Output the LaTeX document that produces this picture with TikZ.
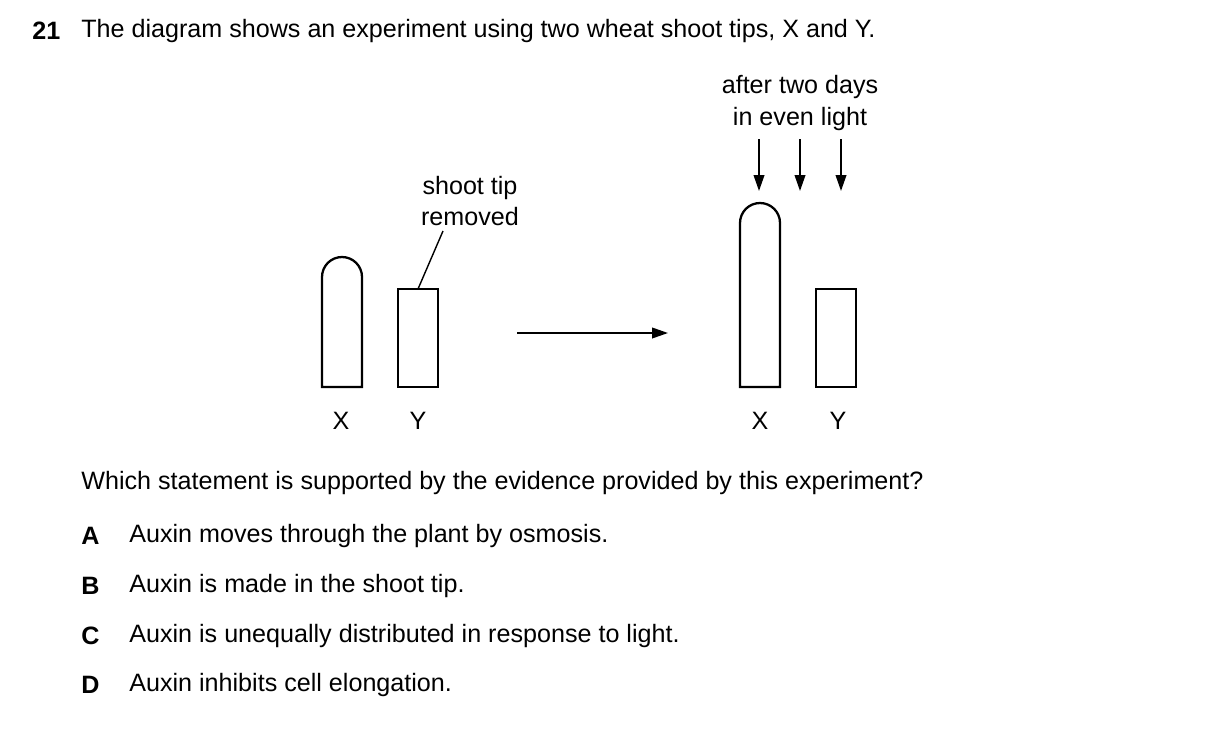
\documentclass[tikz,border=0pt]{standalone}
\usepackage{fontspec}
\setmainfont{Liberation Sans}
\usetikzlibrary{arrows.meta}
\begin{document}
\begin{tikzpicture}[x=0.02cm,y=-0.02cm,
  txt/.style={inner sep=0pt,font=\fontsize{14.3}{17}\selectfont},
  lbl/.style={txt,anchor=west},
  plant/.style={line width=1.3pt},
  arr/.style={line width=1pt,-{Triangle[length=9pt,width=6pt]}}]
\useasboundingbox (0,0) rectangle (1209,747);
\node[lbl,font=\fontsize{14.3}{17}\selectfont\bfseries] (n21) at (32,31) {21};
\node[lbl] (title) at (81,31) {The diagram shows an experiment using two wheat shoot tips, X and Y.};
% left plants
\draw[plant] (322,387) -- (322,277) arc[start angle=180,end angle=360,radius=20] -- (362,387) -- cycle;
\draw[plant] (398,289) rectangle (438,387);
\node[txt,align=center] (st) at (470,201) {shoot tip\\[1pt]removed};
\coordinate (ytop) at (418,289);
\draw[line width=0.8pt] (443,231) -- (ytop);
\node[txt] (x1) at (341,421) {X};
\node[txt] (y1) at (418,421) {Y};
% arrow
\coordinate (a1) at (517,333); \coordinate (a2) at (668,333);
\draw[arr] (a1) -- (a2);
% right plants
\draw[plant] (740,387) -- (740,223) arc[start angle=180,end angle=360,radius=20] -- (780,387) -- cycle;
\draw[plant] (816,289) rectangle (856,387);
\node[txt] (x2) at (760,421) {X};
\node[txt] (y2) at (838,421) {Y};
\node[txt,align=center] (light) at (800,103) {after two days\\[1pt]in even light};
\foreach \xx/\n in {759/l1,800/l2,841/l3}{
  \coordinate (\n a) at (\xx,139); \coordinate (\n b) at (\xx,191);
  \draw[arr] (\n a) -- (\n b);}
\node[lbl] (q) at (81,483) {Which statement is supported by the evidence provided by this experiment?};
\foreach \L/\T/\yy in {A/Auxin moves through the plant by osmosis./536,B/Auxin is made in the shoot tip./586,C/Auxin is unequally distributed in response to light./636,D/Auxin inhibits cell elongation./685}{
  \node[lbl,font=\fontsize{14.3}{17}\selectfont\bfseries] (L\L) at (81,\yy) {\L};
  \node[lbl] (T\L) at (129,\yy) {\T};}
\end{tikzpicture}
\end{document}
